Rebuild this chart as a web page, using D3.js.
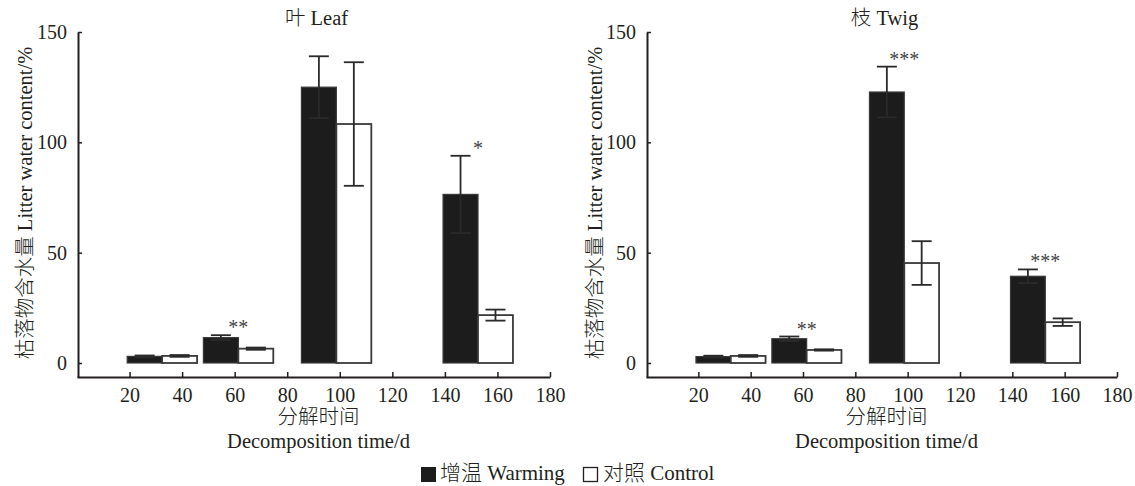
<!DOCTYPE html>
<html>
<head>
<meta charset="utf-8">
<script src="https://cdn.jsdelivr.net/npm/d3@7"></script>
<style>
  body { margin: 0; background: #fff; }
  text { font-family: "Liberation Serif", "Noto Sans CJK SC", serif; fill: #231f20; font-weight: 300; }
</style>
</head>
<body>
<svg id="chart" width="1135" height="486"></svg>
<script>
// decomposition days (group centres) and tick labels
const days = [32.4, 61.4, 98.7, 152.6];
const xTicks = [20, 40, 60, 80, 100, 120, 140, 160, 180];
const yTicks = [0, 50, 100, 150];

// leaf
const leafWarming   = [3.0, 11.5, 125.0, 76.4];
const leafWarmingSE = [0.4, 1.1, 14.0, 17.5];
const leafControl   = [3.2, 6.5, 108.3, 21.7];
const leafControlSE = [0.4, 0.5, 28.0, 2.5];
const leafSig       = ["", "**", "", "*"];

// twig
const twigWarming   = [2.9, 11.0, 122.8, 39.3];
const twigWarmingSE = [0.4, 1.0, 11.5, 3.1];
const twigControl   = [3.2, 5.9, 45.3, 18.5];
const twigControlSE = [0.4, 0.3, 9.9, 1.7];
const twigSig       = ["", "**", "***", "***"];

const panels = [
  {title: "叶 Leaf", left: 77, right: 550, warm: leafWarming, warmSE: leafWarmingSE,
   ctrl: leafControl, ctrlSE: leafControlSE, sig: leafSig, ylabX: 32},
  {title: "枝 Twig", left: 646, right: 1117, warm: twigWarming, warmSE: twigWarmingSE,
   ctrl: twigControl, ctrlSE: twigControlSE, sig: twigSig, ylabX: 602}
];

const svg = d3.select('#chart');
const ink = "#231f20";
const barW = 13.3; // in days

const y = d3.scaleLinear().domain([-6.35, 150]).range([377, 32]);

panels.forEach(p => {
  const x = d3.scaleLinear().domain([0, 180]).range([p.left, p.right]);
  const g = svg.append('g');

  // bars
  const warmData = days.map((d, i) => ({d, v: p.warm[i], se: p.warmSE[i], side: -1}));
  const ctrlData = days.map((d, i) => ({d, v: p.ctrl[i], se: p.ctrlSE[i], side: 0}));

  g.selectAll('.warm').data(warmData).join('rect')
    .attr('x', e => x(e.d - barW))
    .attr('y', e => y(e.v))
    .attr('width', x(barW) - x(0))
    .attr('height', e => y(0) - y(e.v))
    .attr('fill', '#1c1c1c')
    .attr('stroke', '#3a3a3a')
    .attr('stroke-width', 1.2);

  g.selectAll('.ctrl').data(ctrlData).join('rect')
    .attr('x', e => x(e.d))
    .attr('y', e => y(e.v))
    .attr('width', x(barW) - x(0))
    .attr('height', e => y(0) - y(e.v))
    .attr('fill', '#fff')
    .attr('stroke', '#3a3a3a')
    .attr('stroke-width', 1.8);

  // error bars
  const errs = warmData.concat(ctrlData);
  const cx = e => x(e.d + (e.side === -1 ? -barW / 2 : barW / 2));
  const eg = g.selectAll('.err').data(errs).join('g').attr('stroke', '#2a2a2a').attr('stroke-width', 1.8);
  eg.append('line').attr('x1', cx).attr('x2', cx).attr('y1', e => y(e.v + e.se)).attr('y2', e => y(e.v - e.se));
  eg.append('line').attr('x1', e => cx(e) - 10).attr('x2', e => cx(e) + 10).attr('y1', e => y(e.v + e.se)).attr('y2', e => y(e.v + e.se));
  eg.append('line').attr('x1', e => cx(e) - 10).attr('x2', e => cx(e) + 10).attr('y1', e => y(e.v - e.se)).attr('y2', e => y(e.v - e.se));

  // significance
  g.selectAll('.sig').data(days.map((d, i) => ({d, s: p.sig[i], top: Math.max(p.warm[i] + p.warmSE[i], p.ctrl[i] + p.ctrlSE[i])})))
    .join('text')
    .attr('x', e => x(e.d))
    .attr('y', e => y(e.top) - 1)
    .attr('text-anchor', 'middle')
    .attr('font-size', 20)
    .style('fill', '#444')
    .text(e => e.s);

  // axes
  const yAxis = g.append('g').attr('transform', `translate(${p.left + 1},0)`)
    .call(d3.axisLeft(y).tickValues(yTicks).tickSize(-4).tickSizeOuter(0).tickPadding(11));
  const xAxis = g.append('g').attr('transform', `translate(0,377)`)
    .call(d3.axisBottom(x).tickValues(xTicks).tickSize(-5).tickSizeOuter(0).tickPadding(11));
  [yAxis, xAxis].forEach(a => {
    a.select('.domain').attr('stroke', ink).attr('stroke-width', 2);
    a.selectAll('.tick line').attr('stroke', ink).attr('stroke-width', 1.5);
    a.selectAll('.tick text').attr('font-size', 20).attr('font-family', null).style('fill', ink);
  });

  // title
  g.append('text')
    .attr('x', (p.left + p.right) / 2 + 3)
    .attr('y', 25)
    .attr('text-anchor', 'middle')
    .attr('font-size', 20.5)
    .text(p.title);

  // y label
  g.append('text')
    .attr('transform', `translate(${p.ylabX},${203}) rotate(-90)`)
    .attr('text-anchor', 'middle')
    .attr('font-size', 20.5)
    .text("枯落物含水量 Litter water content/%");

  // x labels
  g.append('text')
    .attr('x', (p.left + p.right) / 2 + 5)
    .attr('y', 424)
    .attr('text-anchor', 'middle')
    .attr('font-size', 20.5)
    .text("分解时间");
  g.append('text')
    .attr('x', (p.left + p.right) / 2 + 5)
    .attr('y', 448)
    .attr('text-anchor', 'middle')
    .attr('font-size', 20.5)
    .text("Decomposition time/d");
});

// legend
const legend = svg.append('g');
legend.append('rect').attr('x', 421).attr('y', 467).attr('width', 15).attr('height', 15).attr('fill', '#1c1c1c');
legend.append('text').attr('x', 440).attr('y', 480).attr('font-size', 21).text("增温 Warming");
legend.append('rect').attr('x', 583.5).attr('y', 467.5).attr('width', 14).attr('height', 14).attr('fill', '#fff').attr('stroke', ink).attr('stroke-width', 1.3);
legend.append('text').attr('x', 603).attr('y', 480).attr('font-size', 21).text("对照 Control");
</script>
</body>
</html>
